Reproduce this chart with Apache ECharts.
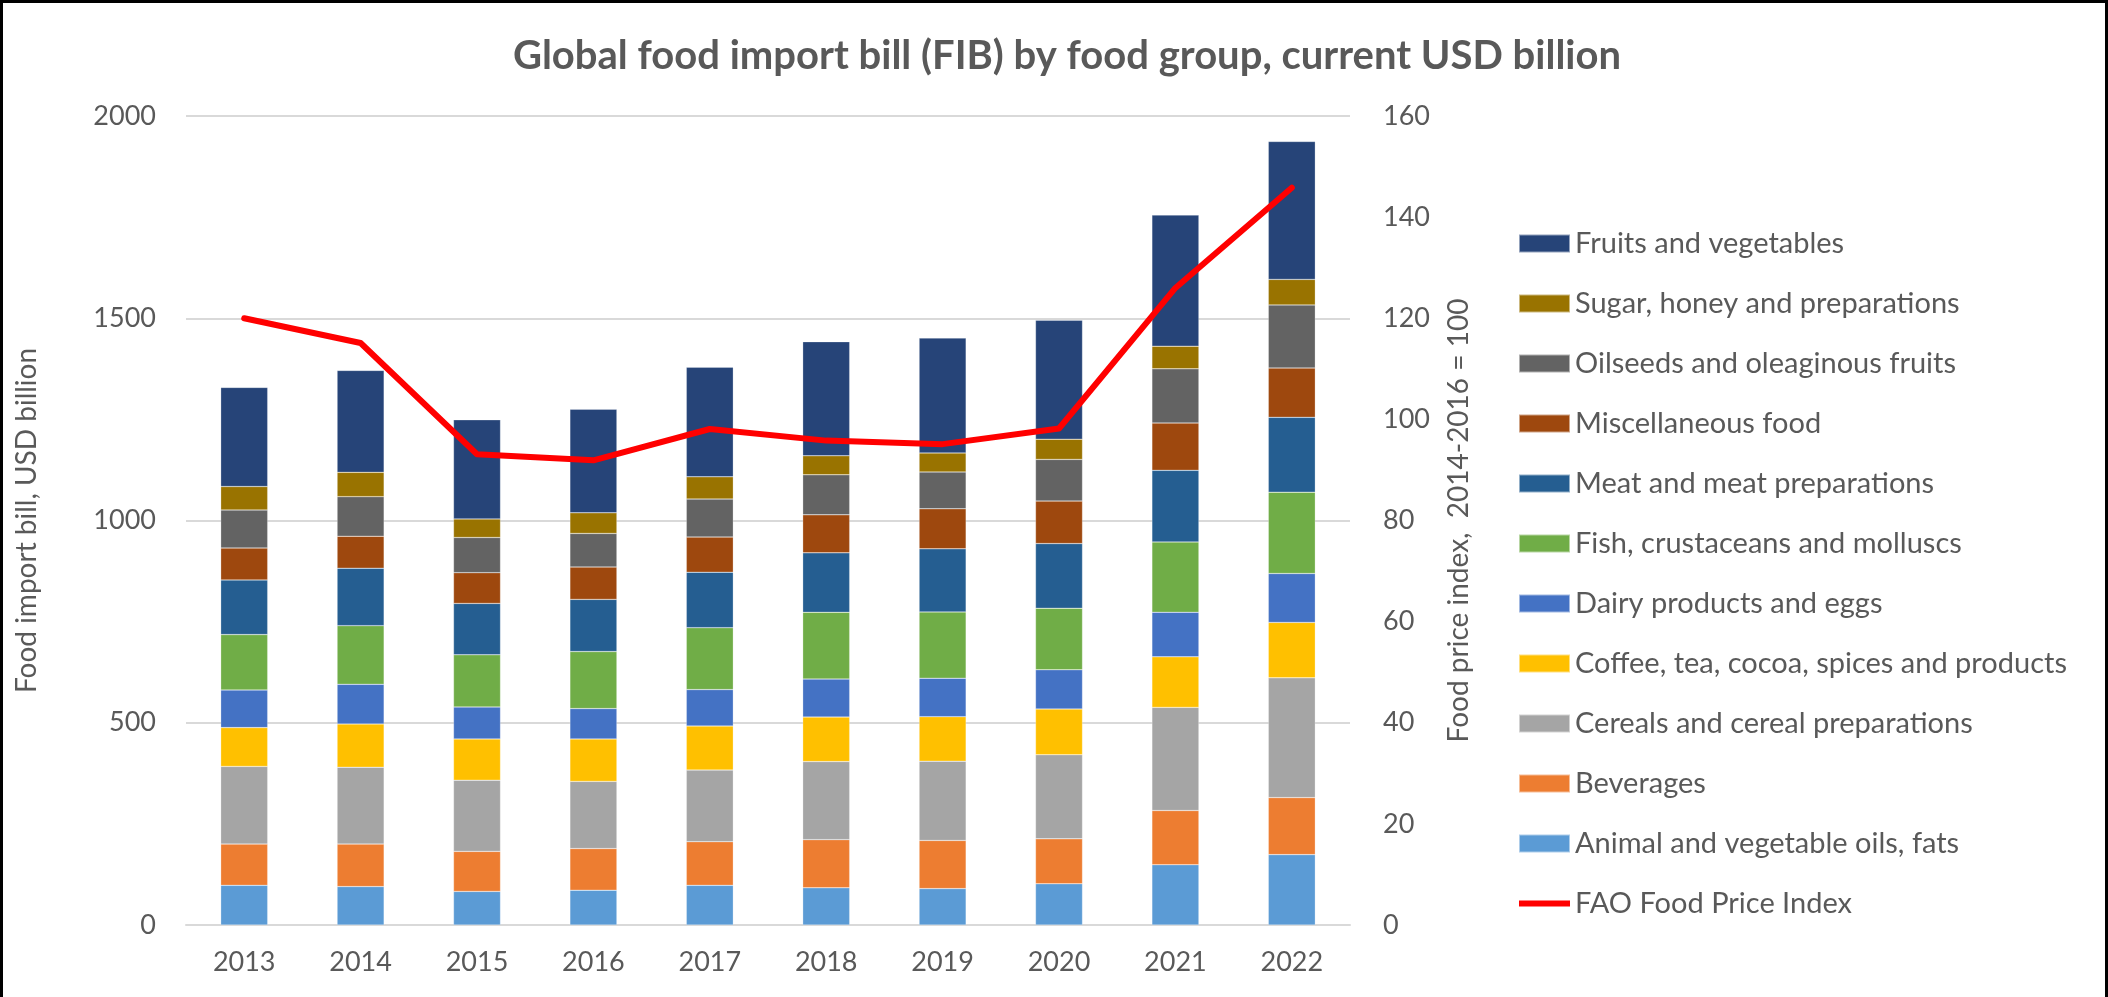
<!DOCTYPE html>
<html>
<head>
<meta charset="utf-8">
<script src="https://cdn.jsdelivr.net/npm/echarts@6/dist/echarts.min.js"></script>
<style>
html,body{margin:0;padding:0;background:#fff;}
#wrap{position:absolute;left:0;top:0;width:2108px;height:997px;box-sizing:border-box;border-top:3px solid #000;border-left:3px solid #000;border-right:3px solid #000;}
#chart{position:absolute;left:0;top:0;width:2108px;height:997px;}
</style>
</head>
<body>
<div id="chart"></div>
<div id="wrap"></div>
<script>
const years = ['2013','2014','2015','2016','2017','2018','2019','2020','2021','2022'];
const leftTicks = [0, 500, 1000, 1500, 2000];
const rightTicks = [0, 20, 40, 60, 80, 100, 120, 140, 160];

const oilsFats   = [98, 95, 83, 86, 98, 92, 90, 102, 149, 174];
const beverages  = [102, 105, 99, 103, 108, 119, 119, 111, 134, 141];
const cereals    = [192, 190, 176, 166, 177, 193, 196, 208, 255, 296];
const coffee     = [96, 107, 102, 105, 109, 110, 110, 113, 125, 137];
const dairy      = [93, 98, 79, 75, 90, 94, 95, 97, 110, 121];
const fish       = [137, 145, 129, 141, 153, 165, 164, 152, 174, 201];
const meat       = [135, 142, 127, 129, 137, 147, 156, 160, 177, 185];
const misc       = [79, 79, 76, 80, 87, 94, 99, 105, 117, 122];
const oilseeds   = [94, 98, 87, 83, 94, 99, 91, 103, 134, 156];
const sugar      = [58, 60, 46, 51, 55, 47, 47, 50, 56, 63];
const fruitsVeg  = [245, 252, 245, 256, 271, 282, 284, 294, 324, 341];
const foodPriceIndex = [120.0, 115.1, 93.1, 91.9, 98.1, 95.8, 95.1, 98.2, 126.0, 145.8];

const barSeries = [
  ['Animal and vegetable oils, fats', oilsFats, '#5b9bd5'],
  ['Beverages', beverages, '#ed7d31'],
  ['Cereals and cereal preparations', cereals, '#a5a5a5'],
  ['Coffee, tea, cocoa, spices and products', coffee, '#ffc000'],
  ['Dairy products and eggs', dairy, '#4472c4'],
  ['Fish, crustaceans and molluscs', fish, '#70ad47'],
  ['Meat and meat preparations', meat, '#255e91'],
  ['Miscellaneous food', misc, '#9e480e'],
  ['Oilseeds and oleaginous fruits', oilseeds, '#636363'],
  ['Sugar, honey and preparations', sugar, '#997300'],
  ['Fruits and vegetables', fruitsVeg, '#264478']
];
const lineName = 'FAO Food Price Index';

const FONT = 'Lato';
const TXT = '#595959';

const series = barSeries.map(([name, data, color]) => ({
  name, type: 'bar', stack: 'fib', data, barWidth: 47,
  itemStyle: {color, borderColor: 'rgba(255,255,255,0.5)', borderWidth: 0.5},
  yAxisIndex: 0
}));
series.push({
  name: lineName, type: 'line', data: foodPriceIndex, yAxisIndex: 1,
  symbol: 'none', lineStyle: {color: '#ff0000', width: 6, cap: 'round', join: 'round'},
  itemStyle: {color: '#ff0000'}, z: 10
});

const legendData = barSeries.slice().reverse().map(s => ({name: s[0], icon: 'rect'}))
  .concat([{name: lineName, icon: 'path://M0,4 L52,4 L52,10 L0,10 Z'}]);

const chart = echarts.init(document.getElementById('chart'), null, {renderer: 'canvas'});
chart.setOption({
  animation: false,
  backgroundColor: '#fff',
  title: {
    text: 'Global food import bill (FIB) by food group, current USD billion',
    left: 1062, top: 31, textAlign: 'center',
    textStyle: {fontFamily: FONT, fontWeight: 'bold', fontSize: 40, color: TXT}
  },
  grid: {left: 186, right: 758, top: 116, bottom: 72},
  legend: {
    orient: 'vertical', left: 1513, top: 224, itemWidth: 51, itemHeight: 18,
    itemGap: 31, data: legendData,
    textStyle: {fontFamily: FONT, fontSize: 29, color: TXT}
  },
  xAxis: {
    type: 'category', data: years,
    axisLine: {lineStyle: {color: '#d9d9d9', width: 2}},
    axisTick: {show: false},
    axisLabel: {fontFamily: FONT, fontSize: 27, color: TXT, margin: 24}
  },
  yAxis: [{
    type: 'value', min: leftTicks[0], max: leftTicks[leftTicks.length-1], interval: 500,
    name: 'Food import bill, USD billion', nameLocation: 'middle', nameGap: 145,
    nameTextStyle: {fontFamily: FONT, fontSize: 28, color: TXT},
    axisLabel: {fontFamily: FONT, fontSize: 27, color: TXT, margin: 30, formatter: v => String(v)},
    splitLine: {lineStyle: {color: '#d9d9d9', width: 2}},
    axisLine: {show: false}, axisTick: {show: false}
  }, {
    type: 'value', min: rightTicks[0], max: rightTicks[rightTicks.length-1], interval: 20,
    name: 'Food price index,  2014-2016 = 100', nameLocation: 'middle', nameGap: 95,
    nameTextStyle: {fontFamily: FONT, fontSize: 28, color: TXT},
    axisLabel: {fontFamily: FONT, fontSize: 27, color: TXT, margin: 33, formatter: v => String(v)},
    splitLine: {show: false},
    axisLine: {show: false}, axisTick: {show: false}
  }],
  series
});
</script>
</body>
</html>
